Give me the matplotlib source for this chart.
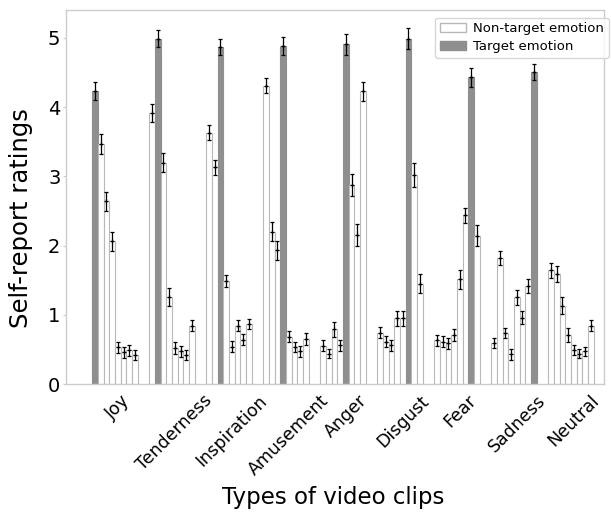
import numpy as np
import matplotlib
matplotlib.use("Agg")
import matplotlib.pyplot as plt
from matplotlib.patches import Patch

clips = ["Joy", "Tenderness", "Inspiration", "Amusement", "Anger",
         "Disgust", "Fear", "Sadness", "Neutral"]
rated = ["Joy", "Tenderness", "Inspiration", "Amusement", "Anger",
         "Disgust", "Fear", "Sadness"]

# mean ratings of each rated emotion (columns) for each clip type (rows)
means = np.array([
    [4.24, 3.47, 2.64, 2.06, 0.53, 0.46, 0.49, 0.42],  # Joy
    [3.92, 4.99, 3.20, 1.25, 0.52, 0.47, 0.42, 0.84],  # Tenderness
    [3.63, 3.13, 4.87, 1.49, 0.54, 0.84, 0.64, 0.87],  # Inspiration
    [4.31, 2.20, 1.93, 4.89, 0.68, 0.53, 0.47, 0.65],  # Amusement
    [0.55, 0.44, 0.79, 0.56, 4.91, 2.88, 2.15, 4.23],  # Anger
    [0.74, 0.61, 0.56, 0.95, 0.95, 4.99, 3.02, 1.45],  # Disgust
    [0.63, 0.61, 0.59, 0.71, 1.51, 2.44, 4.43, 2.14],  # Fear
    [0.59, 1.82, 0.74, 0.43, 1.25, 0.96, 1.41, 4.51],  # Sadness
    [1.64, 1.59, 1.13, 0.71, 0.49, 0.44, 0.47, 0.84],  # Neutral
])
errors = np.array([
    [0.13, 0.14, 0.14, 0.14, 0.08, 0.08, 0.08, 0.07],
    [0.13, 0.12, 0.14, 0.13, 0.08, 0.08, 0.07, 0.08],
    [0.11, 0.11, 0.12, 0.09, 0.08, 0.08, 0.08, 0.07],
    [0.11, 0.14, 0.14, 0.13, 0.08, 0.07, 0.08, 0.08],
    [0.08, 0.07, 0.11, 0.08, 0.15, 0.16, 0.16, 0.14],
    [0.08, 0.08, 0.08, 0.11, 0.11, 0.15, 0.17, 0.14],
    [0.08, 0.08, 0.08, 0.09, 0.14, 0.11, 0.14, 0.15],
    [0.07, 0.10, 0.07, 0.08, 0.11, 0.10, 0.10, 0.12],
    [0.11, 0.12, 0.12, 0.10, 0.07, 0.06, 0.07, 0.08],
])
# index of the target emotion for each clip type (-1: none)
target = [0, 1, 2, 3, 4, 5, 6, 7, -1]

fig = plt.figure(figsize=(6.11, 5.12), dpi=100)
ax = fig.add_axes([0.108, 0.25, 0.8805, 0.73])

w = 0.1
n = len(rated)
for i, clip in enumerate(clips):
    xs = i + (np.arange(n) - (n - 1) / 2) * w
    for j in range(n):
        is_t = (j == target[i])
        ax.bar(xs[j], means[i, j], width=w,
               color="#8f8f8f" if is_t else "white",
               edgecolor="#8f8f8f" if is_t else "#b8b8b8",
               linewidth=0.8, zorder=2)
    ax.errorbar(xs, means[i], yerr=errors[i], fmt="+", color="black",
                ecolor="black", elinewidth=0.9, capsize=1.5, capthick=0.9,
                markersize=3, markeredgewidth=0.9, zorder=3)

ax.set_xlim(-0.86, 8.58)
ax.set_ylim(0, 5.4)
ax.set_xticks(np.arange(len(clips)) + 0.05)
ax.set_xticklabels(clips, rotation=45, ha="center", fontsize=12.5)
ax.set_yticks(range(6))
ax.tick_params(axis="y", labelsize=14, length=2, pad=2, color="#cccccc")
ax.tick_params(axis="x", length=0, pad=5.5)
for s in ax.spines.values():
    s.set_color("#cccccc")
    s.set_linewidth(1.0)

ax.set_ylabel("Self-report ratings", fontsize=17.5)
ax.yaxis.set_label_coords(-0.061, 0.444)
ax.set_xlabel("Types of video clips", fontsize=16.5, va="top")
ax.xaxis.set_label_coords(0.497, -0.272)

handles = [Patch(facecolor="white", edgecolor="#b8b8b8", label="Non-target emotion"),
           Patch(facecolor="#8f8f8f", edgecolor="#8f8f8f", label="Target emotion")]
leg = ax.legend(handles=handles, loc="upper right", fontsize=9.5,
                bbox_to_anchor=(1.009, 0.98),
                frameon=True, fancybox=True, borderaxespad=0.0,
                handlelength=2.0, handletextpad=0.55,
                borderpad=0.35, labelspacing=0.35)
leg.get_frame().set_edgecolor("#cccccc")

fig.savefig("out.png", dpi=100)
